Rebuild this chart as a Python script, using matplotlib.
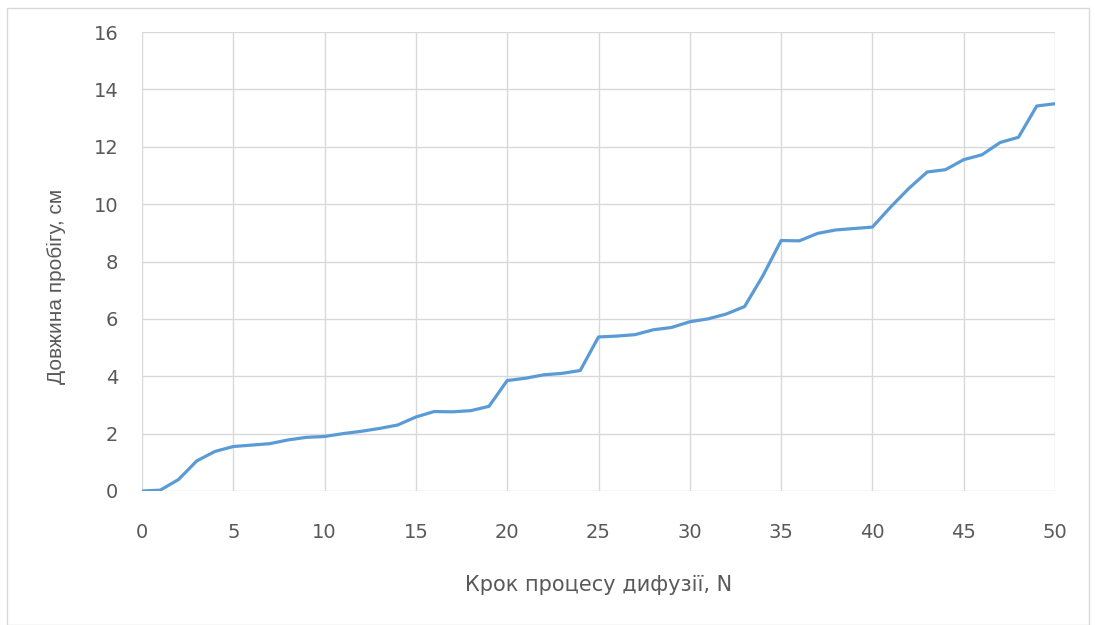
import matplotlib
matplotlib.use("Agg")
import matplotlib.pyplot as plt
from matplotlib.patches import Rectangle

steps = list(range(0, 51))
run_length = [0.0, 0.03, 0.4, 1.05, 1.38, 1.55, 1.6, 1.65, 1.78, 1.87,
              1.9, 2.0, 2.08, 2.18, 2.3, 2.58, 2.77, 2.76, 2.8, 2.95,
              3.85, 3.93, 4.05, 4.1, 4.2, 5.37, 5.4, 5.45, 5.62, 5.7,
              5.9, 6.0, 6.17, 6.43, 7.5, 8.73, 8.72, 8.98, 9.1, 9.15,
              9.2, 9.9, 10.55, 11.12, 11.2, 11.55, 11.72, 12.15, 12.33, 13.42,
              13.5]
x_ticks = [0, 5, 10, 15, 20, 25, 30, 35, 40, 45, 50]
y_ticks = [0, 2, 4, 6, 8, 10, 12, 14, 16]
x_label = "Крок процесу дифузії, N"
y_label = "Довжина пробігу, см"

plt.rcParams['font.family'] = ['DejaVu Sans']

txt = "#595959"
fig = plt.figure(figsize=(10.95, 6.25), dpi=100)
fig.patches.append(Rectangle((7/1095, 0), 1082/1095, 1 - 8/625, transform=fig.transFigure,
                             fill=False, edgecolor="#D9D9D9", linewidth=1.0))
ax = fig.add_axes([142/1095, 1 - 491/625, (1055 - 142)/1095, (491 - 32)/625])
ax.plot(steps, run_length, color="#5B9BD5", linewidth=2.3, solid_joinstyle="round")
ax.set_xlim(0, 50)
ax.set_ylim(0, 16)
ax.set_xticks(x_ticks)
ax.set_yticks(y_ticks)
ax.grid(True, color="#D9D9D9", linewidth=1.0)
ax.set_axisbelow(True)
for s in ax.spines.values():
    s.set_visible(False)
ax.tick_params(length=0, labelsize=14, colors=txt)
ax.tick_params(axis="x", pad=23)
ax.tick_params(axis="y", pad=17)
ax.set_xlabel(x_label, fontsize=15, color=txt)
ax.xaxis.set_label_coords(0.5, -0.183)
ax.set_ylabel(y_label, fontsize=15, color=txt, family=["Liberation Sans", "DejaVu Sans"])
ax.yaxis.set_label_coords(-0.0832, 0.4466)
fig.savefig("out.png", dpi=100)
